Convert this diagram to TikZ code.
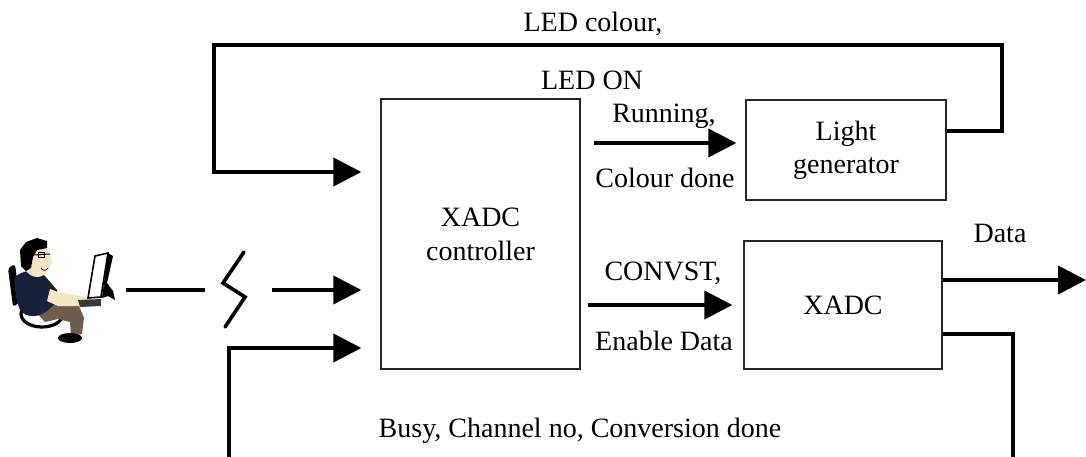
\documentclass[tikz,border=0pt]{standalone}
\usepackage{fontspec}
\setmainfont{Liberation Serif}
\usetikzlibrary{arrows.meta}
\definecolor{shirt}{HTML}{18213A}
\definecolor{skin}{HTML}{F7E6C4}
\definecolor{pants}{HTML}{6F5E4E}
\definecolor{keyb}{HTML}{3A3A3A}
\begin{document}
\begin{tikzpicture}[x=1pt,y=-1pt,
  blk/.style={draw=black!85, line width=1.3pt, inner sep=0pt, align=center,
              font=\fontsize{28}{34}\selectfont},
  lbl/.style={font=\fontsize{28}{34}\selectfont, anchor=base, inner sep=0pt},
  wire/.style={line width=4pt},
  sig/.style={line width=4pt, -{Triangle[length=28pt,width=28pt]}}]
\useasboundingbox (0,0) rectangle (1086,457);
\clip (0,0) rectangle (1086,457);

% blocks
\node[blk, minimum width=199pt, minimum height=270pt] (ctl) at (480.5,234) {XADC\\controller};
\node[blk, minimum width=200pt, minimum height=100pt,
      font=\fontsize{28}{33}\selectfont] (lg) at (846,150) {Light\\generator};
\node[blk, minimum width=198pt, minimum height=128pt] (xadc) at (843,305) {XADC};

% routing points
\coordinate (t1) at (1002,131);
\coordinate (t2) at (214,45);
\coordinate (t3) at (214,172);
\coordinate (run) at (0,143);
\coordinate (cnv) at (0,305);
\coordinate (dout) at (1086,280);
\coordinate (b1) at (1013,334);
\coordinate (b2) at (1013,480);
\coordinate (b3) at (229,480);
\coordinate (b4) at (229,348);
\coordinate (user) at (126,290);
\coordinate (brk1) at (205,290);
\coordinate (brk2) at (272,290);

% LED feedback loop
\draw[sig, shorten >=19pt] (lg.east |- t1) -- (t1) |- (t2) |- (ctl.west |- t3);
% controller to light generator
\draw[sig, shorten <=13pt, shorten >=9pt] (ctl.east |- run) -- (lg.west |- run);
% controller to XADC
\draw[sig, shorten <=7pt, shorten >=11pt] (ctl.east |- cnv) -- (xadc.west |- cnv);
% data output
\draw[sig] (xadc.east |- dout) -- (dout);
% status feedback loop
\draw[sig, shorten >=19pt] (xadc.east |- b1) -- (b1) -- (b2) -- (b3) -- (b4) -- (ctl.west |- b4);
% wireless user link
\draw[wire] (user) -- (brk1);
\draw[line width=3.6pt, line cap=round] (244,252) -- (223,283) -- (245,297) -- (225,327);
\draw[sig, shorten >=19pt] (brk2) -- (ctl.west |- brk2);

% labels
\node[lbl] (ledc) at (593,32) {LED colour,};
\node[lbl] (ledo) at (592,90) {LED ON};
\node[lbl] (runl) at (664,123) {Running,};
\node[lbl] (cdone) at (665,188) {Colour done};
\node[lbl] (cnvl) at (663,280) {CONVST,};
\node[lbl] (enl) at (664,350) {Enable Data};
\node[lbl] (datl) at (1000,242) {Data};
\node[lbl] (busy) at (580,437) {Busy, Channel no, Conversion done};

% user at the computer
\fill[black, rounded corners=3pt] (8,268) -- (15,264) -- (20,302) -- (13,307) -- cycle;
\draw[black, line width=3.2pt, fill=white] (42,314) ellipse [x radius=21, y radius=13];
\fill[pants] (40,305) -- (62,301) -- (79,306) -- (84,318) -- (82,334) -- (71,336)
   -- (70,322) -- (58,319) -- (45,322) -- (37,313) -- cycle;
\fill[black] (70,338) ellipse [x radius=12, y radius=5];
\fill[shirt] (15,277) .. controls (23,270) and (36,268) .. (45,276)
   -- (57,290) -- (58,301) -- (47,311) .. controls (38,318) and (26,318) .. (20,310)
   .. controls (16,300) and (14,288) .. cycle;
\fill[skin] (50,289) -- (58,292) -- (80,296) -- (89,297) -- (91,303) -- (83,306)
   -- (58,306) -- (47,301) -- cycle;
\fill[keyb] (78,300) -- (101,299) -- (101,306) -- (80,307) -- cycle;
\fill[skin] (37,260) ellipse [x radius=14, y radius=17];
\fill[skin] (49,258) -- (53,263) -- (49,265) -- cycle;
\fill[black] (21,266) -- (20,250) -- (26,242) -- (37,238) -- (47,241) -- (47,248)
   -- (37,250) -- (33,257) -- (31,268) -- (26,271) -- cycle;
\draw[black, line width=1pt] (33,255) -- (50,254);
\draw[black, line width=1pt] (38,252.5) rectangle (44,257);
\draw[black, line width=0.8pt] (41,268) .. controls (43,271) and (46,271) .. (48,268);
\draw[black, line width=1.6pt, fill=white] (95,256) -- (108,253) -- (101,297) -- (88,298) -- cycle;
\fill[black] (108,253) -- (113,256) -- (107,283) -- (113,291) -- (115,300)
   -- (108,296) -- (102,298) -- cycle;
\end{tikzpicture}
\end{document}
